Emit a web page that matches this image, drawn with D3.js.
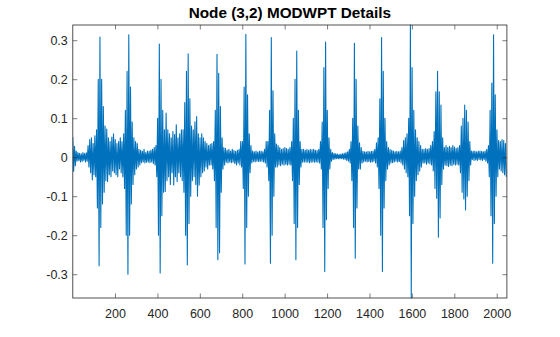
<!DOCTYPE html>
<html>
<head>
<meta charset="utf-8">
<script src="https://cdn.jsdelivr.net/npm/d3@7"></script>
<style>
  html, body { margin: 0; padding: 0; background: #fff; }
  svg { display: block; }
  text { font-family: "Liberation Sans", Arial, Helvetica, sans-serif; fill: #262626; }
</style>
</head>
<body>
<svg id="chart" width="560" height="337"></svg>
<script>
// ---- data (signal, one value every 4 samples) ----
const titleText = "Node (3,2) MODWPT Details";
const firstSample = 1;
const sampleStep = 4;
const xDomain = [1, 2048];
const yDomain = [-0.361, 0.339];
const xTickValues = [200, 400, 600, 800, 1000, 1200, 1400, 1600, 1800, 2000];
const yTickValues = [-0.3, -0.2, -0.1, 0, 0.1, 0.2, 0.3];
const yTickLabels = ["-0.3", "-0.2", "-0.1", "0", "0.1", "0.2", "0.3"];
const detailValues = [
  0.052,-0.036,0.028,-0.022,0.016,-0.01,0.012,-0.008,0.01,-0.012,
  0.009,-0.011,0.012,-0.008,0.01,-0.012,0.011,-0.01,0.03,-0.025,
  0.045,-0.04,0.05,-0.058,0.035,-0.045,0.055,-0.05,0.07,-0.13,
  0.2,-0.278,0.308,-0.18,0.2,-0.12,0.13,-0.09,0.08,-0.06,
  0.072,-0.062,0.05,-0.045,0.04,-0.05,0.052,-0.035,0.06,-0.04,
  0.045,-0.045,0.035,-0.05,0.04,-0.03,0.05,-0.04,0.04,-0.05,
  0.06,-0.08,0.12,-0.2,0.22,-0.3,0.314,-0.2,0.18,-0.12,
  0.09,-0.07,0.05,-0.045,0.04,-0.03,0.035,-0.025,0.02,-0.02,
  0.018,-0.014,0.015,-0.012,0.02,-0.015,0.012,-0.013,0.016,-0.012,
  0.015,-0.014,0.018,-0.012,0.02,-0.016,0.025,-0.02,0.03,-0.05,
  0.1,-0.2,0.29,-0.297,0.2,-0.15,0.12,-0.09,0.07,-0.088,
  0.113,-0.06,0.07,-0.05,0.06,-0.07,0.05,-0.04,0.066,-0.071,
  0.058,-0.05,0.083,-0.062,0.05,-0.04,0.06,-0.05,0.07,-0.06,
  0.07,-0.09,0.14,-0.2,0.22,-0.276,0.265,-0.17,0.15,-0.1,
  0.08,-0.06,0.07,-0.05,0.091,-0.07,0.104,-0.1,0.06,-0.071,
  0.05,-0.05,0.06,-0.04,0.05,-0.035,0.04,-0.025,0.035,-0.03,
  0.03,-0.02,0.033,-0.02,0.035,-0.03,0.04,-0.06,0.12,-0.18,
  0.264,-0.263,0.215,-0.245,0.13,-0.09,0.05,-0.03,0.025,-0.02,
  0.023,-0.013,0.018,-0.015,0.02,-0.012,0.016,-0.014,0.02,-0.013,
  0.017,-0.016,0.015,-0.02,0.018,-0.015,0.02,-0.02,0.04,-0.025,
  0.04,-0.08,0.18,-0.274,0.315,-0.18,0.16,-0.1,0.06,-0.04,
  0.03,-0.015,0.016,-0.011,0.014,-0.012,0.016,-0.01,0.013,-0.011,
  0.015,-0.011,0.016,-0.01,0.014,-0.012,0.02,-0.015,0.04,-0.025,
  0.04,-0.06,0.12,-0.272,0.307,-0.2,0.17,-0.1,0.06,-0.025,
  0.034,-0.025,0.03,-0.02,0.025,-0.022,0.02,-0.018,0.022,-0.02,
  0.025,-0.018,0.022,-0.02,0.02,-0.018,0.025,-0.02,0.04,-0.06,
  0.1,-0.17,0.2,-0.263,0.272,-0.18,0.12,-0.07,0.04,-0.025,
  0.02,-0.013,0.02,-0.012,0.018,-0.013,0.02,-0.012,0.018,-0.014,
  0.02,-0.013,0.019,-0.012,0.02,-0.013,0.018,-0.012,0.017,-0.013,
  0.02,-0.015,0.04,-0.03,0.09,-0.18,0.23,-0.293,0.295,-0.16,
  0.12,-0.08,0.05,-0.03,0.02,-0.01,0.012,-0.006,0.01,-0.005,
  0.009,-0.004,0.008,-0.004,0.007,-0.004,0.008,-0.004,0.009,-0.005,
  0.01,-0.006,0.012,-0.008,0.014,-0.01,0.02,-0.015,0.04,-0.06,
  0.1,-0.18,0.292,-0.259,0.2,-0.13,0.08,-0.03,0.037,-0.03,
  0.025,-0.015,0.015,-0.012,0.014,-0.01,0.013,-0.012,0.015,-0.011,
  0.014,-0.013,0.015,-0.012,0.016,-0.01,0.02,-0.015,0.037,-0.025,
  0.05,-0.08,0.15,-0.2,0.307,-0.293,0.22,-0.13,0.1,-0.06,
  0.04,-0.03,0.025,-0.02,0.02,-0.015,0.018,-0.014,0.016,-0.012,
  0.014,-0.01,0.015,-0.012,0.014,-0.011,0.016,-0.015,0.025,-0.02,
  0.043,-0.03,0.05,-0.04,0.06,-0.05,0.1,-0.15,0.339,-0.361,
  0.23,-0.17,0.12,-0.1,0.07,-0.06,0.05,-0.045,0.04,-0.035,
  0.03,-0.025,0.02,-0.015,0.02,-0.015,0.022,-0.018,0.02,-0.015,
  0.022,-0.017,0.03,-0.02,0.04,-0.035,0.066,-0.08,0.168,-0.105,
  0.22,-0.205,0.168,-0.156,0.134,-0.07,0.05,-0.03,0.025,-0.02,
  0.03,-0.022,0.025,-0.024,0.028,-0.02,0.025,-0.022,0.03,-0.018,
  0.026,-0.02,0.022,-0.018,0.025,-0.02,0.03,-0.04,0.08,-0.09,
  0.1,-0.107,0.134,-0.135,0.12,-0.1,0.09,-0.06,0.04,-0.02,
  0.016,-0.006,0.015,-0.008,0.016,-0.007,0.014,-0.008,0.015,-0.006,
  0.016,-0.007,0.015,-0.008,0.014,-0.006,0.016,-0.01,0.02,-0.015,
  0.03,-0.05,0.12,-0.15,0.19,-0.272,0.314,-0.17,0.16,-0.1,
  0.07,-0.05,0.043,-0.03,0.04,-0.035,0.045,-0.04,0.043,-0.045,
  0.035,-0.05
];

// ---- layout ----
const W = 560, H = 337;
const margin = { top: 25, right: 53.1, bottom: 39, left: 72.8 };
const iw = W - margin.left - margin.right;
const ih = H - margin.top - margin.bottom;
const axisColor = "#262626";
const lineColor = "#0072bd";
const tickLen = 4.5;

const svg = d3.select("#chart");
const g = svg.append("g").attr("transform", `translate(${margin.left},${margin.top})`);

const x = d3.scaleLinear().domain(xDomain).range([0, iw]);
const y = d3.scaleLinear().domain(yDomain).range([ih, 0]);

svg.append("defs").append("clipPath").attr("id", "clip")
  .append("rect").attr("x", 0).attr("y", -1).attr("width", iw).attr("height", ih + 2);

// signal line
const line = d3.line()
  .x((d, i) => x(firstSample + i * sampleStep))
  .y(d => y(d));

g.append("path")
  .datum(detailValues)
  .attr("clip-path", "url(#clip)")
  .attr("fill", "none")
  .attr("stroke", lineColor)
  .attr("stroke-width", 1.1)
  .attr("stroke-linejoin", "round")
  .attr("d", line);

// axes (MATLAB style: ticks inward, box)
const fontSize = "12.5px";
const xAxisBottom = d3.axisBottom(x).tickValues(xTickValues).tickSize(-tickLen).tickPadding(11.5).tickFormat(d3.format("d"));
const xAxisTop = d3.axisTop(x).tickValues(xTickValues).tickSize(-tickLen).tickFormat("");
const yAxisLeft = d3.axisLeft(y).tickValues(yTickValues).tickSize(-tickLen).tickPadding(5)
  .tickFormat((d, i) => yTickLabels[i]);
const yAxisRight = d3.axisRight(y).tickValues(yTickValues).tickSize(-tickLen).tickFormat("");

function styleAxis(sel) {
  sel.select(".domain").remove();
  sel.selectAll(".tick line").attr("stroke", axisColor).attr("stroke-width", 0.6);
  sel.selectAll(".tick text").attr("fill", axisColor).style("font-size", fontSize)
    .style("font-family", '"Liberation Sans", Arial, sans-serif');
}

g.append("g").attr("transform", `translate(0,${ih})`).call(xAxisBottom).call(styleAxis);
g.append("g").call(xAxisTop).call(styleAxis);
g.append("g").call(yAxisLeft).call(styleAxis);
g.append("g").attr("transform", `translate(${iw},0)`).call(yAxisRight).call(styleAxis);

// box
g.append("rect")
  .attr("x", 0).attr("y", 0).attr("width", iw).attr("height", ih)
  .attr("fill", "none").attr("stroke", axisColor).attr("stroke-width", 0.8);

// title
svg.append("text")
  .attr("x", margin.left + iw / 2)
  .attr("y", 18.3)
  .attr("text-anchor", "middle")
  .style("font-size", "15.3px")
  .style("font-weight", "bold")
  .style("fill", "#000")
  .text(titleText);
</script>
</body>
</html>
